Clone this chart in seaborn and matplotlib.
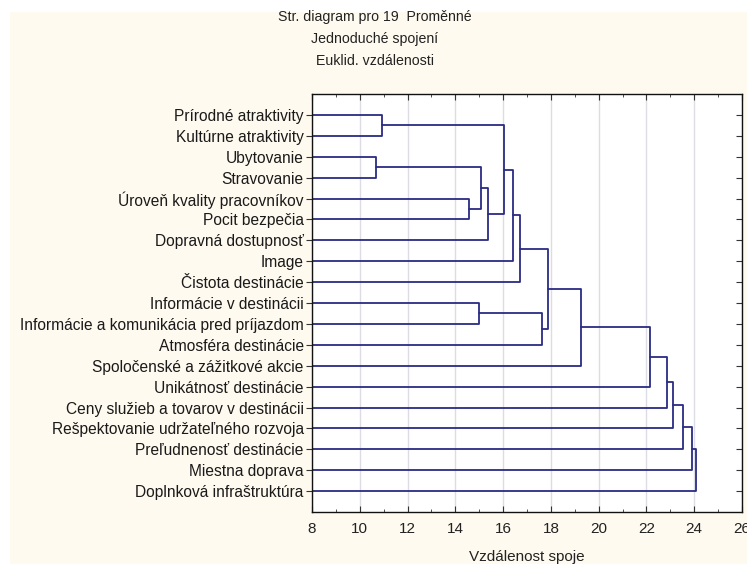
import matplotlib
matplotlib.use("Agg")
import matplotlib.pyplot as plt
from matplotlib.patches import Rectangle
from matplotlib.ticker import MultipleLocator
import numpy as np
import pandas as pd
import seaborn as sns

# Leaf labels in dendrogram order (top to bottom)
labels = [
    "Prírodné atraktivity",
    "Kultúrne atraktivity",
    "Ubytovanie",
    "Stravovanie",
    "Úroveň kvality pracovníkov",
    "Pocit bezpečia",
    "Dopravná dostupnosť",
    "Image",
    "Čistota destinácie",
    "Informácie v destinácii",
    "Informácie a komunikácia pred príjazdom",
    "Atmosféra destinácie",
    "Spoločenské a zážitkové akcie",
    "Unikátnosť destinácie",
    "Ceny služieb a tovarov v destinácii",
    "Rešpektovanie udržateľného rozvoja",
    "Preľudnenosť destinácie",
    "Miestna doprava",
    "Doplnková infraštruktúra",
]

# Single-linkage merges: ids 0..18 are leaves, each merge creates id 19, 20, ...
merge_a = [0, 2, 4, 20, 22, 19, 24, 25, 9, 27, 26, 29, 30, 31, 32, 33, 34, 35]
merge_b = [1, 3, 5, 21, 6, 23, 7, 8, 10, 11, 28, 12, 13, 14, 15, 16, 17, 18]
merge_dist = [10.92, 10.66, 14.58, 15.07, 15.38, 16.02, 16.42, 16.72, 14.98,
              17.63, 17.88, 19.24, 22.13, 22.84, 23.13, 23.55, 23.89, 24.07]

x_ticks = [8, 10, 12, 14, 16, 18, 20, 22, 24, 26]

title_lines = ["Str. diagram pro 19  Proměnné", "Jednoduché spojení", "Euklid. vzdálenosti"]
x_label = "Vzdálenost spoje"

sns.set_theme(style="white")
plt.rcParams["font.family"] = ["Liberation Sans", "DejaVu Sans"]

X_MIN, X_MAX = x_ticks[0], x_ticks[-1]

# Build link polylines from the merge table
node_x = {i: X_MIN for i in range(len(labels))}
node_y = {i: i + 1 for i in range(len(labels))}
rows = []
for k, (a, b, d) in enumerate(zip(merge_a, merge_b, merge_dist)):
    nid = len(labels) + k
    pts = [(node_x[a], node_y[a]), (d, node_y[a]), (d, node_y[b]), (node_x[b], node_y[b])]
    for order, (px, py) in enumerate(pts):
        rows.append({"link": k, "order": order, "x": px, "y": py})
    node_x[nid] = d
    node_y[nid] = (node_y[a] + node_y[b]) / 2
links = pd.DataFrame(rows)

fig = plt.figure(figsize=(7.47, 5.64), dpi=100)
fig.patch.set_facecolor("white")
fig.patches.append(Rectangle((10 / 747, 0), 1, 1 - 12 / 564, transform=fig.transFigure,
                             facecolor="#fffaef", edgecolor="none", zorder=-10))

ax = fig.add_axes([312 / 747, 52 / 564, 430 / 747, 418 / 564])
ax.set_facecolor("white")

ax.xaxis.set_major_locator(MultipleLocator(2))
ax.xaxis.set_minor_locator(MultipleLocator(1))
ax.grid(axis="x", which="major", color="#dcdce4", linewidth=1.0)
ax.set_axisbelow(True)

sns.lineplot(data=links, x="x", y="y", units="link", estimator=None, sort=False,
             color="#2b2b83", linewidth=1.3, ax=ax, legend=False)

ax.set_xlim(X_MIN, X_MAX)
ax.set_ylim(len(labels) + 1, 0)
ax.set_xticks(x_ticks)
ax.set_xticklabels([str(t) for t in x_ticks], fontsize=11, color="#222222")
ax.set_yticks(np.arange(1, len(labels) + 1))
ax.set_yticklabels(labels, fontsize=11.2, color="#1a1a1a")
ax.set_xlabel(x_label, fontsize=11, color="#222222", labelpad=10)
ax.set_ylabel("")

for s in ax.spines.values():
    s.set_visible(True)
    s.set_color("#111111")
    s.set_linewidth(1.0)

ax.tick_params(axis="x", which="both", direction="in", top=True, bottom=True,
               color="#333333", pad=7)
ax.tick_params(axis="x", which="major", length=4, width=0.8)
ax.tick_params(axis="x", which="minor", length=2.5, width=0.6)
ax.tick_params(axis="y", which="major", left=True, right=True, length=4, width=0.8,
               color="#333333", pad=2)
for t in ax.yaxis.get_major_ticks():
    t.tick2line.set_marker(matplotlib.lines.TICKLEFT)

fig.text(375 / 747, 1 - 10 / 564, "\n".join(title_lines), ha="center",
         va="top", fontsize=10.2, color="#222222", linespacing=1.72)

fig.savefig("out.png", dpi=100, facecolor=fig.get_facecolor())
